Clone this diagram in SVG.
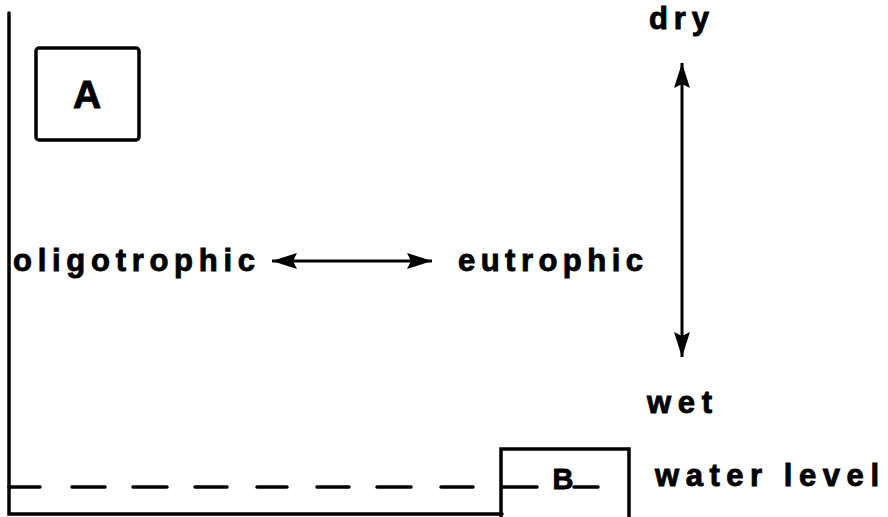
<svg xmlns="http://www.w3.org/2000/svg" width="888" height="517" viewBox="0 0 888 517">
<style>
.ln{stroke:#000;stroke-width:3.5;fill:none;stroke-linecap:round}
.bx{stroke:#000;stroke-width:3.5;fill:none}
.t{font-family:"Liberation Sans",Arial,Helvetica,sans-serif;font-weight:bold;fill:#000;stroke:#000;stroke-width:0.9}
.lab{font-size:31px}
.arr{stroke:#000;stroke-width:3;fill:none}
</style>
<defs>
<marker id="ah" markerUnits="userSpaceOnUse" markerWidth="28" markerHeight="18" refX="25" refY="8" orient="auto-start-reverse">
<path d="M0,0 L25,8 L0,16 L4,8 z" fill="#000"/>
</marker>
</defs>
<rect width="888" height="517" fill="#fff"/>
<g id="frame">
<path class="ln" d="M9,13 V514 H502"/>
<path class="ln" d="M9,487 H40 M72,487 H105 M133,487 H167 M195,487 H227 M257,487 H287 M317,487 H349 M377,487 H411 M441,487 H473"/>
</g>
<g id="nodeA">
<rect class="bx" x="36" y="48" width="103" height="92" rx="3"/>
<text class="t" x="87" y="108" font-size="39" text-anchor="middle">A</text>
</g>
<g id="nodeB">
<path class="bx" d="M501,517 V449 H629 V517"/>
<path class="ln" d="M502,487 H537 M574,487 H598"/>
<text class="t" x="563" y="489" font-size="29" text-anchor="middle">B</text>
</g>
<g id="labels">
<text class="t lab" x="13" y="271" textLength="242" lengthAdjust="spacing">oligotrophic</text>
<text class="t lab" x="458" y="271" textLength="185" lengthAdjust="spacing">eutrophic</text>
<text class="t lab" x="649" y="29" textLength="60" lengthAdjust="spacing">dry</text>
<text class="t lab" x="647" y="413" textLength="65" lengthAdjust="spacing">wet</text>
<text class="t lab" x="655" y="486" textLength="224" lengthAdjust="spacing">water level</text>
</g>
<g id="connectors">
<line class="arr" x1="272" y1="261" x2="432" y2="261" marker-start="url(#ah)" marker-end="url(#ah)"/>
<line class="arr" x1="682" y1="63" x2="682" y2="357" marker-start="url(#ah)" marker-end="url(#ah)"/>
</g>
</svg>
